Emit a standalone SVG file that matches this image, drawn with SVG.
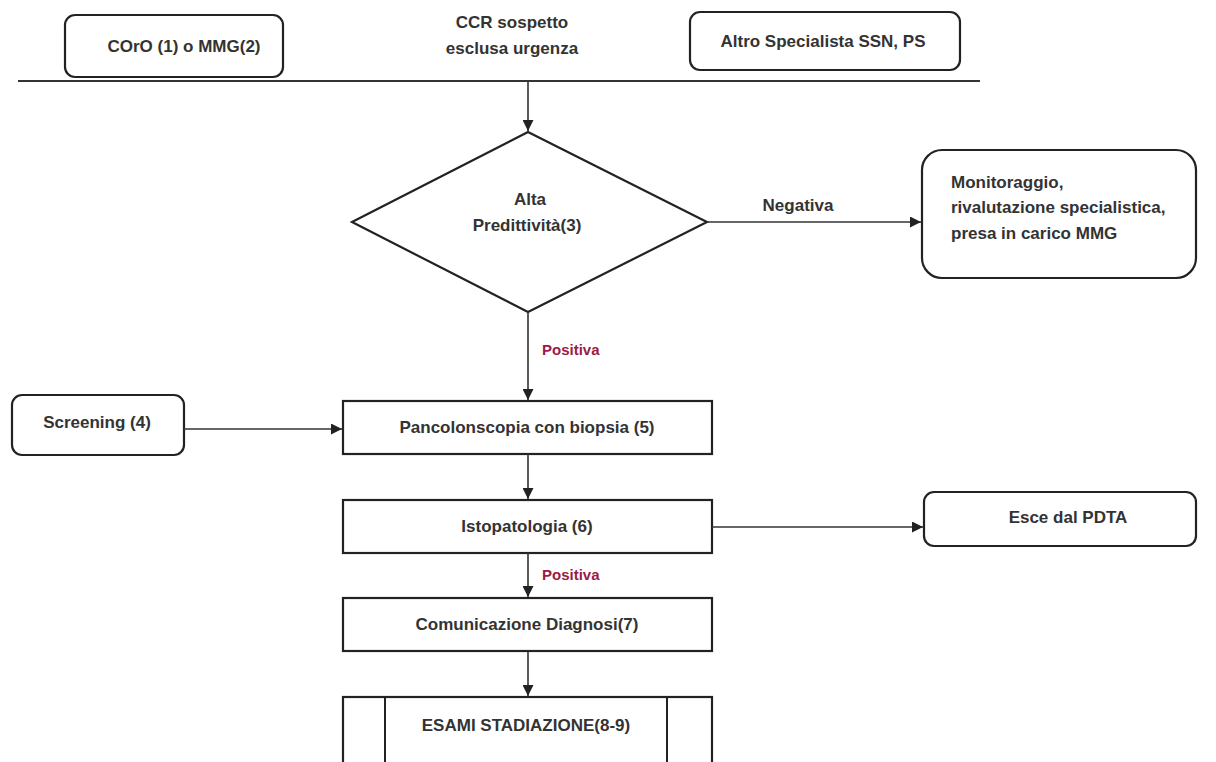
<svg xmlns="http://www.w3.org/2000/svg" width="1216" height="762" viewBox="0 0 1216 762">
  <defs>
    <marker id="arrow" viewBox="0 0 10 10" refX="10" refY="5" markerWidth="11" markerHeight="11" markerUnits="userSpaceOnUse" orient="auto">
      <path d="M0,0 L10,5 L0,10 z" fill="#222"/>
    </marker>
    <style>
      .box { fill: #fff; stroke: #222; stroke-width: 2.2; }
      .edge { fill: none; stroke: #333; stroke-width: 1.6; }
      .t { font-family: "Liberation Sans", Arial, sans-serif; font-size: 17px; font-weight: bold; fill: #333; text-anchor: middle; }
      .tl { text-anchor: start; }
      .pos { fill: #9b1b45; font-size: 15px; }
    </style>
  </defs>
  <rect width="1216" height="762" fill="#fff"/>

  <!-- header row -->
  <g id="coro">
    <rect class="box" x="65" y="15" width="218" height="62" rx="10"/>
    <text class="t" x="184" y="52">COrO (1) o MMG(2)</text>
  </g>
  <g id="ccr">
    <text class="t" x="512" y="28">CCR sospetto</text>
    <text class="t" x="512" y="54">esclusa urgenza</text>
  </g>
  <g id="altro">
    <rect class="box" x="690" y="12" width="270" height="58" rx="10"/>
    <text class="t" x="823" y="47">Altro Specialista SSN, PS</text>
  </g>
  <line id="divider" x1="18" y1="81" x2="980" y2="81" stroke="#333" stroke-width="2"/>

  <g id="decision">
    <polygon class="box" points="528,132 707,222 528,312 352,222"/>
    <text class="t" x="530" y="205">Alta</text>
    <text class="t" x="527" y="231">Predittività(3)</text>
  </g>

  <g id="monitoraggio">
    <rect class="box" x="922" y="150" width="274" height="128" rx="20"/>
    <text class="t tl" x="951" y="188">Monitoraggio,</text>
    <text class="t tl" x="951" y="213">rivalutazione specialistica,</text>
    <text class="t tl" x="951" y="239">presa in carico MMG</text>
  </g>

  <g id="screening">
    <rect class="box" x="12" y="395" width="172" height="60" rx="10"/>
    <text class="t" x="97" y="428">Screening (4)</text>
  </g>

  <g id="pancolonscopia">
    <rect class="box" x="343" y="401" width="369" height="53"/>
    <text class="t" x="527" y="433">Pancolonscopia con biopsia (5)</text>
  </g>

  <g id="istopatologia">
    <rect class="box" x="343" y="500" width="369" height="53"/>
    <text class="t" x="527" y="532">Istopatologia (6)</text>
  </g>

  <g id="esce">
    <rect class="box" x="924" y="492" width="272" height="54" rx="10"/>
    <text class="t" x="1068" y="523">Esce dal PDTA</text>
  </g>

  <g id="comunicazione">
    <rect class="box" x="343" y="598" width="369" height="53"/>
    <text class="t" x="527" y="630">Comunicazione Diagnosi(7)</text>
  </g>

  <g id="esami">
    <rect class="box" x="343" y="697" width="369" height="70"/>
    <line x1="385" y1="697" x2="385" y2="762" stroke="#222" stroke-width="2"/>
    <line x1="667" y1="697" x2="667" y2="762" stroke="#222" stroke-width="2"/>
    <text class="t" x="526" y="731">ESAMI STADIAZIONE(8-9)</text>
  </g>

  <g id="connectors">
    <line class="edge" x1="528" y1="82" x2="528" y2="131" marker-end="url(#arrow)"/>
    <line class="edge" x1="707" y1="222" x2="921" y2="222" marker-end="url(#arrow)"/>
    <text class="t" x="798" y="211">Negativa</text>
    <line class="edge" x1="528" y1="312" x2="528" y2="400" marker-end="url(#arrow)"/>
    <text class="t tl pos" x="542" y="355">Positiva</text>
    <line class="edge" x1="184" y1="429" x2="342" y2="429" marker-end="url(#arrow)"/>
    <line class="edge" x1="528" y1="454" x2="528" y2="499" marker-end="url(#arrow)"/>
    <line class="edge" x1="712" y1="527" x2="923" y2="527" marker-end="url(#arrow)"/>
    <line class="edge" x1="528" y1="553" x2="528" y2="597" marker-end="url(#arrow)"/>
    <text class="t tl pos" x="542" y="580">Positiva</text>
    <line class="edge" x1="528" y1="651" x2="528" y2="696" marker-end="url(#arrow)"/>
  </g>
</svg>
